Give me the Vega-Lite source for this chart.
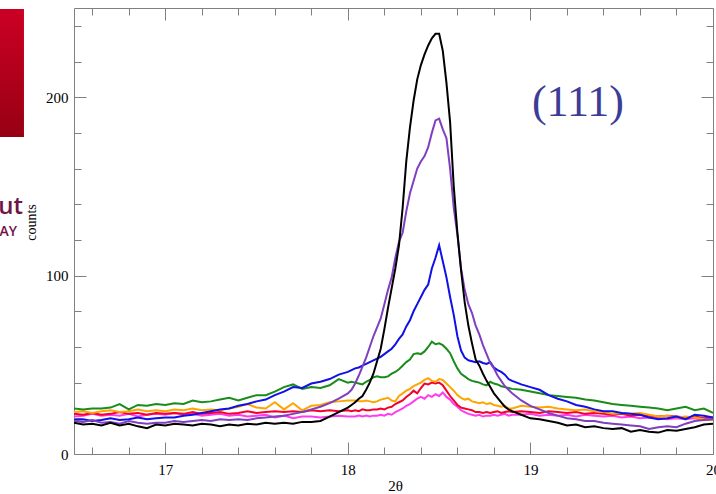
{
  "$schema": "https://vega.github.io/schema/vega-lite/v6.json",
  "width": 639,
  "height": 446,
  "autosize": {"type": "none"},
  "padding": {"left": 74, "top": 8, "right": 3, "bottom": 40},
  "background": "white",
  "config": {
    "view": {"stroke": null},
    "axis": {
      "labelFont": "Liberation Serif",
      "titleFont": "Liberation Serif",
      "labelFontSize": 15,
      "titleFontSize": 15,
      "labelColor": "#000000",
      "titleColor": "#000000",
      "titleFontWeight": "normal",
      "domainColor": "#808080",
      "tickColor": "#808080",
      "grid": false
    }
  },
  "datasets": {
    "spectra": [
      {"x":16.50,"k":17.5,"p":18.5,"b":19,"g":25.5,"o":23.5,"r":22.5,"m":21},
      {"x":16.55,"k":16.5,"p":18,"b":19.5,"g":25,"o":24,"r":22,"m":21.5},
      {"x":16.60,"k":17,"p":19,"b":18.5,"g":25.5,"o":23,"r":23,"m":22.5},
      {"x":16.65,"k":16,"p":17.5,"b":19,"g":25.5,"o":24,"r":22,"m":21.5},
      {"x":16.70,"k":17.5,"p":18,"b":20,"g":26,"o":24.5,"r":22.5,"m":22},
      {"x":16.75,"k":16,"p":17,"b":19,"g":28,"o":23.5,"r":23.5,"m":21.5},
      {"x":16.80,"k":17,"p":18.5,"b":19.5,"g":25,"o":24,"r":22.5,"m":22.5},
      {"x":16.85,"k":15.5,"p":17.5,"b":20.5,"g":27.5,"o":25,"r":23,"m":21},
      {"x":16.90,"k":14.5,"p":17,"b":19.5,"g":27,"o":24,"r":22,"m":22},
      {"x":16.95,"k":16.5,"p":17.5,"b":20,"g":28,"o":24.5,"r":23,"m":22.5},
      {"x":17.00,"k":16,"p":17.5,"b":20.5,"g":27.5,"o":24,"r":22.5,"m":22},
      {"x":17.05,"k":17,"p":18.5,"b":20.5,"g":28.5,"o":25,"r":23,"m":23},
      {"x":17.10,"k":16.5,"p":18,"b":21.5,"g":28,"o":24.5,"r":22.5,"m":22},
      {"x":17.15,"k":16,"p":18.5,"b":22,"g":30,"o":25.5,"r":23.5,"m":22.5},
      {"x":17.20,"k":17,"p":19,"b":23,"g":29,"o":24.5,"r":22.5,"m":21.5},
      {"x":17.25,"k":16.5,"p":18.5,"b":24,"g":29.5,"o":25,"r":23,"m":22},
      {"x":17.30,"k":15.5,"p":19.5,"b":25,"g":30.5,"o":24.5,"r":23.5,"m":22.5},
      {"x":17.35,"k":16.5,"p":19,"b":25.5,"g":31.5,"o":25.5,"r":22.5,"m":21.5},
      {"x":17.40,"k":16,"p":19.5,"b":27,"g":30,"o":26.5,"r":23,"m":22},
      {"x":17.45,"k":17,"p":19,"b":28,"g":31.5,"o":28,"r":24,"m":21},
      {"x":17.50,"k":16.5,"p":20,"b":29.5,"g":33,"o":26,"r":23,"m":21.5},
      {"x":17.55,"k":17.5,"p":20.5,"b":30.5,"g":33,"o":25.5,"r":23.5,"m":22},
      {"x":17.60,"k":17,"p":21,"b":33,"g":35,"o":29,"r":24,"m":20.5},
      {"x":17.65,"k":17.5,"p":21.5,"b":35,"g":37.5,"o":25,"r":23.5,"m":21.5},
      {"x":17.70,"k":17,"p":22.5,"b":37.5,"g":39,"o":28.5,"r":24,"m":20},
      {"x":17.75,"k":18,"p":23.5,"b":37,"g":36.5,"o":24.5,"r":23.5,"m":21},
      {"x":17.80,"k":18,"p":25,"b":39.5,"g":37.5,"o":27,"r":24.5,"m":21},
      {"x":17.85,"k":18.5,"p":26.5,"b":40.5,"g":37,"o":27.5,"r":24,"m":20.5},
      {"x":17.90,"k":21,"p":28.5,"b":42,"g":38.5,"o":29,"r":24.5,"m":21},
      {"x":17.95,"k":23.5,"p":31,"b":44.5,"g":42,"o":29.5,"r":24,"m":21.5},
      {"x":18.00,"k":26,"p":34,"b":46,"g":40,"o":30,"r":24.5,"m":21},
      {"x":18.02,"k":27.5,"p":36,"b":47,"g":40.5,"o":30,"r":24,"m":21},
      {"x":18.04,"k":29,"p":39.5,"b":48,"g":40,"o":30,"r":24.5,"m":21},
      {"x":18.06,"k":31,"p":44,"b":48.5,"g":39.5,"o":29.5,"r":24,"m":21.5},
      {"x":18.08,"k":32.5,"p":49,"b":49.5,"g":39,"o":29.5,"r":25,"m":21},
      {"x":18.10,"k":36,"p":54,"b":50.5,"g":40.5,"o":30,"r":24.5,"m":21.5},
      {"x":18.12,"k":40,"p":60,"b":51.5,"g":41.5,"o":29.5,"r":24.5,"m":21},
      {"x":18.14,"k":45,"p":66,"b":52.5,"g":43,"o":29,"r":25,"m":21.5},
      {"x":18.16,"k":52,"p":71,"b":53.5,"g":43.5,"o":29.5,"r":25,"m":21.5},
      {"x":18.18,"k":59,"p":76,"b":54.5,"g":43,"o":30.5,"r":25.5,"m":22},
      {"x":18.20,"k":70,"p":84,"b":56,"g":43,"o":31,"r":25,"m":21.5},
      {"x":18.22,"k":82,"p":92,"b":57.5,"g":43.5,"o":31.5,"r":26,"m":22.5},
      {"x":18.24,"k":93,"p":99,"b":59,"g":45,"o":30,"r":26.5,"m":22},
      {"x":18.26,"k":104,"p":110,"b":61.5,"g":46,"o":29.5,"r":28,"m":23.5},
      {"x":18.28,"k":117,"p":119,"b":64.5,"g":47.5,"o":32.5,"r":29,"m":24.5},
      {"x":18.30,"k":138,"p":124,"b":67,"g":49.5,"o":34,"r":30,"m":25.5},
      {"x":18.32,"k":164,"p":136,"b":71.5,"g":51.5,"o":35.5,"r":32,"m":27},
      {"x":18.34,"k":183,"p":146,"b":75,"g":53,"o":36.5,"r":33.5,"m":28},
      {"x":18.36,"k":198,"p":153,"b":80,"g":56,"o":38,"r":35.5,"m":29.5},
      {"x":18.38,"k":210,"p":160,"b":84,"g":56.5,"o":39,"r":34,"m":31},
      {"x":18.40,"k":218,"p":164,"b":88,"g":56,"o":40,"r":37,"m":32},
      {"x":18.42,"k":224,"p":167,"b":92,"g":57.5,"o":41.5,"r":39.5,"m":31},
      {"x":18.44,"k":229,"p":172,"b":95,"g":60,"o":42.5,"r":39,"m":33},
      {"x":18.46,"k":233,"p":180,"b":104,"g":63,"o":41,"r":40,"m":32},
      {"x":18.48,"k":235.5,"p":187,"b":110,"g":61.5,"o":40.5,"r":39.5,"m":33.5},
      {"x":18.50,"k":235.5,"p":188,"b":117,"g":62,"o":42,"r":40,"m":32.5},
      {"x":18.52,"k":226,"p":182,"b":108,"g":61,"o":41.5,"r":38.5,"m":34.5},
      {"x":18.54,"k":208,"p":177,"b":99,"g":59,"o":39.5,"r":35.5,"m":32},
      {"x":18.56,"k":186,"p":160,"b":88,"g":56.5,"o":37.5,"r":32.5,"m":30.5},
      {"x":18.58,"k":150,"p":138,"b":78,"g":52,"o":35.5,"r":30,"m":28},
      {"x":18.60,"k":124,"p":123,"b":66,"g":48,"o":33,"r":27.5,"m":26.5},
      {"x":18.62,"k":103,"p":104,"b":58,"g":45,"o":31.5,"r":26,"m":24.5},
      {"x":18.64,"k":85,"p":92,"b":54,"g":43.5,"o":30.5,"r":25.5,"m":23.5},
      {"x":18.66,"k":72,"p":84,"b":52.5,"g":42,"o":31,"r":25,"m":22.5},
      {"x":18.68,"k":62,"p":79,"b":52,"g":41,"o":29.5,"r":24.5,"m":22},
      {"x":18.70,"k":53,"p":72,"b":51.5,"g":40.5,"o":29,"r":23.5,"m":21.5},
      {"x":18.72,"k":49.5,"p":67,"b":52,"g":40,"o":28.5,"r":23.5,"m":22},
      {"x":18.74,"k":45,"p":61,"b":51,"g":39,"o":29,"r":23,"m":21},
      {"x":18.76,"k":41,"p":56,"b":50.5,"g":38.5,"o":28,"r":23.5,"m":21.5},
      {"x":18.78,"k":37.5,"p":51,"b":51.5,"g":40.5,"o":28.5,"r":23,"m":21.5},
      {"x":18.80,"k":34,"p":48,"b":48.5,"g":39.5,"o":27.5,"r":23.5,"m":22},
      {"x":18.82,"k":31.5,"p":44,"b":47,"g":39,"o":27,"r":24,"m":21.5},
      {"x":18.84,"k":29,"p":41,"b":46,"g":38,"o":26.5,"r":23,"m":22},
      {"x":18.86,"k":26.5,"p":38,"b":44.5,"g":37.5,"o":27,"r":23.5,"m":22.5},
      {"x":18.88,"k":25,"p":36,"b":42,"g":37,"o":25.5,"r":24,"m":21.5},
      {"x":18.90,"k":24,"p":34,"b":41,"g":36.5,"o":25.5,"r":23.5,"m":22},
      {"x":18.95,"k":22,"p":30,"b":39,"g":36,"o":27,"r":24,"m":22},
      {"x":19.00,"k":20,"p":27,"b":37.5,"g":35,"o":26.5,"r":23.5,"m":22.5},
      {"x":19.05,"k":19.5,"p":25,"b":36,"g":34,"o":26,"r":23,"m":21.5},
      {"x":19.10,"k":18.5,"p":23,"b":33,"g":33,"o":26.5,"r":24,"m":22},
      {"x":19.15,"k":17.5,"p":21.5,"b":31,"g":32.5,"o":25.5,"r":23.5,"m":21.5},
      {"x":19.20,"k":16,"p":20,"b":29.5,"g":32,"o":25,"r":23,"m":22},
      {"x":19.25,"k":16.5,"p":19.5,"b":27.5,"g":31.5,"o":24.5,"r":23.5,"m":21},
      {"x":19.30,"k":15,"p":18.5,"b":26.5,"g":30.5,"o":25,"r":22.5,"m":22},
      {"x":19.35,"k":15.5,"p":18.5,"b":25,"g":30,"o":24,"r":23,"m":21.5},
      {"x":19.40,"k":14.5,"p":17.5,"b":24,"g":29,"o":23.5,"r":22.5,"m":21},
      {"x":19.45,"k":14,"p":17,"b":24,"g":28,"o":22.5,"r":22,"m":21.5},
      {"x":19.50,"k":14.5,"p":16.5,"b":23,"g":27.5,"o":23,"r":22.5,"m":20.5},
      {"x":19.55,"k":12.5,"p":16,"b":22.5,"g":27,"o":22.5,"r":21.5,"m":21},
      {"x":19.60,"k":13.5,"p":15.5,"b":22,"g":26.5,"o":23,"r":22,"m":20},
      {"x":19.65,"k":12.5,"p":14,"b":20.5,"g":26,"o":22,"r":21.5,"m":20.5},
      {"x":19.70,"k":12,"p":15,"b":19.5,"g":25.5,"o":21,"r":21,"m":20},
      {"x":19.75,"k":13.5,"p":15.5,"b":20,"g":24.5,"o":21.5,"r":21.5,"m":19.5},
      {"x":19.80,"k":13,"p":15,"b":21,"g":25.5,"o":20.5,"r":21,"m":20},
      {"x":19.85,"k":14,"p":17,"b":19.5,"g":26.5,"o":21,"r":20.5,"m":19.5},
      {"x":19.90,"k":15,"p":18.5,"b":22,"g":24.5,"o":20.5,"r":21,"m":20},
      {"x":19.95,"k":16.5,"p":19,"b":21.5,"g":25.5,"o":19.5,"r":20,"m":19},
      {"x":20.00,"k":17,"p":19.5,"b":20.5,"g":23,"o":19,"r":20.5,"m":19.5}
    ],
    "label": [{"x": 19.26, "y": 197, "t": "(111)"}],
    "logo": [{"x1": 16.0, "x2": 16.226, "y1": 177.7, "y2": 249.4}],
    "logotext": [{"x": 16.221, "y": 134.4, "t": "ut"}, {"x": 16.188, "y": 122.2, "t": "AY"}]
  },
  "layer": [
    {
      "data": {"name": "spectra"},
      "transform": [{"fold": ["m", "r", "o", "g", "b", "p", "k"], "as": ["s", "counts"]}],
      "mark": {"type": "line", "strokeWidth": 2, "clip": true},
      "encoding": {
        "x": {
          "field": "x", "type": "quantitative",
          "scale": {"domain": [16.5, 20], "nice": false, "zero": false},
          "axis": {
            "orient": "bottom",
            "values": [16.6,16.8,17,17.2,17.4,17.6,17.8,18,18.2,18.4,18.6,18.8,19,19.2,19.4,19.6,19.8,20],
            "tickSize": {"condition": {"test": "abs(datum.value - round(datum.value)) < 0.001", "value": -12}, "value": -7},
            "labelExpr": "abs(datum.value - round(datum.value)) < 0.001 ? format(datum.value, 'd') : ''",
            "labelPadding": 20,
            "labelFlush": false,
            "labelOverlap": false,
            "title": "2θ",
            "titleX": 321,
            "titleY": 31,
            "titleBaseline": "middle",
            "titleAlign": "center"
          }
        },
        "y": {
          "field": "counts", "type": "quantitative",
          "scale": {"domain": [0, 250], "nice": false},
          "axis": {
            "orient": "left",
            "values": [0,20,40,60,80,100,120,140,160,180,200,220,240],
            "tickSize": {"condition": {"test": "datum.value % 100 === 0", "value": -12}, "value": -7},
            "labelExpr": "datum.value % 100 === 0 ? format(datum.value, 'd') : ''",
            "labelPadding": 18,
            "labelFlush": false,
            "labelOverlap": false,
            "title": "counts",
            "titleFontSize": 14,
            "titleX": -43,
            "titleY": 214,
            "titleAngle": 270,
            "titleAlign": "center",
            "titleBaseline": "middle"
          }
        },
        "color": {
          "field": "s", "type": "nominal",
          "scale": {
            "domain": ["m", "r", "o", "g", "b", "p", "k"],
            "range": ["#ff3cf0", "#f5002a", "#ffa500", "#1a8c1a", "#1010e8", "#7f3fbf", "#000000"]
          },
          "legend": null
        }
      }
    },
    {
      "data": {"name": "label"},
      "mark": {"type": "text", "font": "Liberation Serif", "fontSize": 44, "color": "#3c3c96", "align": "center", "baseline": "middle"},
      "encoding": {
        "x": {
          "field": "x", "type": "quantitative",
          "axis": {
            "orient": "top",
            "values": [16.6,16.8,17,17.2,17.4,17.6,17.8,18,18.2,18.4,18.6,18.8,19,19.2,19.4,19.6,19.8,20],
            "tickSize": {"condition": {"test": "abs(datum.value - round(datum.value)) < 0.001", "value": -12}, "value": -7},
            "labels": false,
            "title": null
          }
        },
        "y": {
          "field": "y", "type": "quantitative",
          "axis": {
            "orient": "right",
            "values": [0,20,40,60,80,100,120,140,160,180,200,220,240],
            "tickSize": {"condition": {"test": "datum.value % 100 === 0", "value": -12}, "value": -7},
            "labels": false,
            "title": null
          }
        },
        "text": {"field": "t"}
      }
    },
    {
      "data": {"name": "logo"},
      "mark": {
        "type": "rect",
        "color": {"gradient": "linear", "x1": 0, "y1": 0, "x2": 0, "y2": 1,
          "stops": [{"offset": 0, "color": "#cc0024"}, {"offset": 1, "color": "#970012"}]}
      },
      "encoding": {
        "x": {"field": "x1", "type": "quantitative", "axis": null},
        "x2": {"field": "x2"},
        "y": {"field": "y1", "type": "quantitative", "axis": null},
        "y2": {"field": "y2"}
      }
    },
    {
      "data": {"name": "logotext"},
      "transform": [{"filter": "datum.t === 'ut'"}],
      "mark": {"type": "text", "font": "Open Sans", "fontSize": 24, "fontWeight": 600, "color": "#6e1446", "align": "right", "baseline": "alphabetic"},
      "encoding": {
        "x": {"field": "x", "type": "quantitative", "axis": null},
        "y": {"field": "y", "type": "quantitative", "axis": null},
        "text": {"field": "t"}
      }
    },
    {
      "data": {"name": "logotext"},
      "transform": [{"filter": "datum.t === 'AY'"}],
      "mark": {"type": "text", "font": "Open Sans", "fontSize": 14, "fontWeight": 600, "color": "#6e1446", "align": "right", "baseline": "alphabetic"},
      "encoding": {
        "x": {"field": "x", "type": "quantitative", "axis": null},
        "y": {"field": "y", "type": "quantitative", "axis": null},
        "text": {"field": "t"}
      }
    }
  ],
  "resolve": {"axis": {"x": "independent", "y": "independent"}}
}
